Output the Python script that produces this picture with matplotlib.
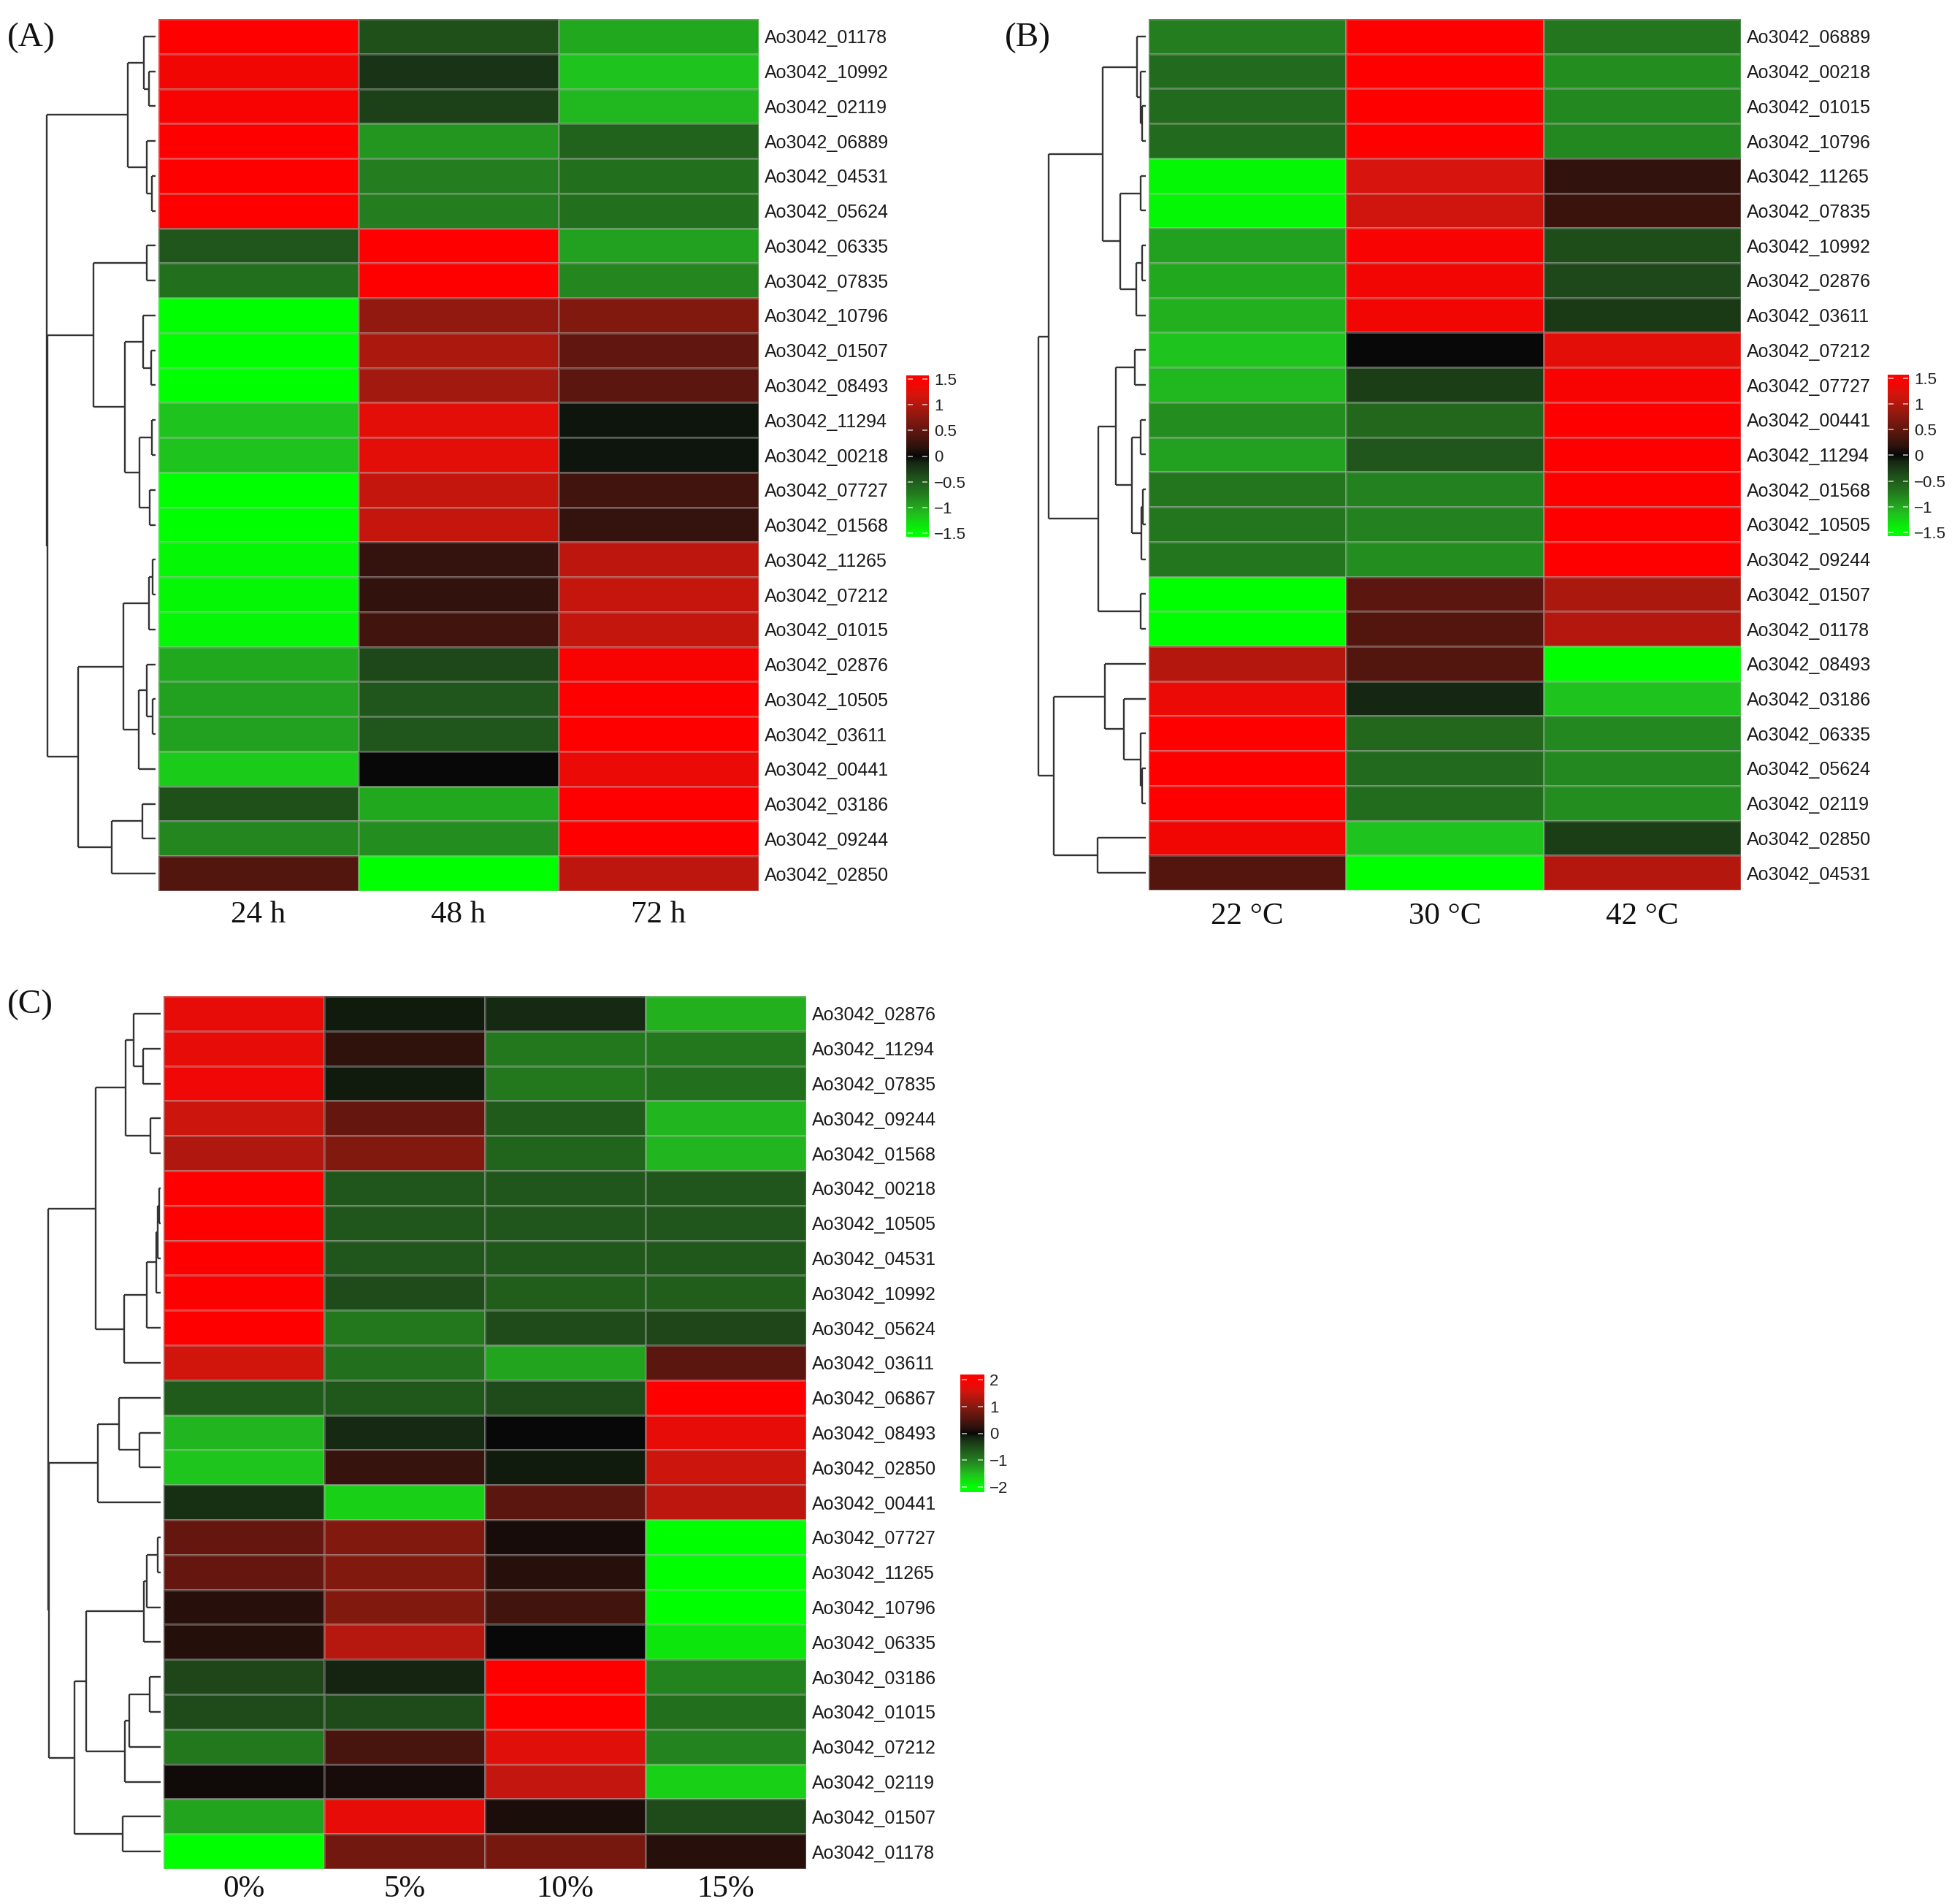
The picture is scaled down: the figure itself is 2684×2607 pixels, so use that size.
import numpy as np
import matplotlib
matplotlib.use('Agg')
import matplotlib.pyplot as plt
from matplotlib.colors import LinearSegmentedColormap
from matplotlib.collections import LineCollection

W, H = 2684, 2607

# ---- panel A: culture time ----
genes_a = ['Ao3042_01178', 'Ao3042_10992', 'Ao3042_02119', 'Ao3042_06889', 'Ao3042_04531',
           'Ao3042_05624', 'Ao3042_06335', 'Ao3042_07835', 'Ao3042_10796', 'Ao3042_01507',
           'Ao3042_08493', 'Ao3042_11294', 'Ao3042_00218', 'Ao3042_07727', 'Ao3042_01568',
           'Ao3042_11265', 'Ao3042_07212', 'Ao3042_01015', 'Ao3042_02876', 'Ao3042_10505',
           'Ao3042_03611', 'Ao3042_00441', 'Ao3042_03186', 'Ao3042_09244', 'Ao3042_02850']
cols_a = ['24 h', '48 h', '72 h']
expr_a = [
    [1.6, -0.4, -1.0], [1.4, -0.2, -1.15], [1.45, -0.3, -1.1], [1.6, -0.9, -0.55],
    [1.6, -0.75, -0.65], [1.6, -0.75, -0.65], [-0.45, 1.6, -0.95], [-0.65, 1.6, -0.8],
    [-1.6, 0.8, 0.7], [-1.6, 0.95, 0.5], [-1.6, 0.9, 0.45], [-1.15, 1.3, -0.05],
    [-1.15, 1.3, -0.05], [-1.5, 1.1, 0.3], [-1.5, 1.1, 0.22], [-1.45, 0.22, 1.05],
    [-1.45, 0.2, 1.1], [-1.45, 0.3, 1.1], [-1.0, -0.35, 1.45], [-0.95, -0.45, 1.5],
    [-0.95, -0.45, 1.5], [-1.2, 0.0, 1.35], [-0.4, -1.0, 1.6], [-0.8, -0.85, 1.55],
    [0.4, -1.6, 1.05]]
# tree: leaf = row index, node = (left, right, height)
tree_a = (((0, (1, 2, 28), 47), (3, (4, 5, 15), 35), 113),
          (((6, 7, 35), ((8, (9, 10, 18), 52), ((11, 12, 15), (13, 14, 25), 65), 125), 255),
           (((((15, 16, 12), 17, 28), ((18, (19, 20, 12), 35), 21, 68), 132),
             ((22, 23, 55), 24, 180), 317)), 443), 446)

# ---- panel B: temperature ----
genes_b = ['Ao3042_06889', 'Ao3042_00218', 'Ao3042_01015', 'Ao3042_10796', 'Ao3042_11265',
           'Ao3042_07835', 'Ao3042_10992', 'Ao3042_02876', 'Ao3042_03611', 'Ao3042_07212',
           'Ao3042_07727', 'Ao3042_00441', 'Ao3042_11294', 'Ao3042_01568', 'Ao3042_10505',
           'Ao3042_09244', 'Ao3042_01507', 'Ao3042_01178', 'Ao3042_08493', 'Ao3042_03186',
           'Ao3042_06335', 'Ao3042_05624', 'Ao3042_02119', 'Ao3042_02850', 'Ao3042_04531']
cols_b = ['22 \u00b0C', '30 \u00b0C', '42 \u00b0C']
expr_b = [
    [-0.75, 1.6, -0.7], [-0.6, 1.6, -0.85], [-0.6, 1.6, -0.82], [-0.6, 1.6, -0.82],
    [-1.45, 1.2, 0.2], [-1.45, 1.15, 0.25], [-0.95, 1.45, -0.38], [-1.0, 1.4, -0.35],
    [-1.05, 1.4, -0.25], [-1.15, 0.0, 1.3], [-1.1, -0.28, 1.45], [-0.85, -0.58, 1.55],
    [-0.95, -0.45, 1.55], [-0.7, -0.78, 1.6], [-0.7, -0.78, 1.6], [-0.7, -0.85, 1.6],
    [-1.6, 0.45, 0.95], [-1.6, 0.4, 1.0], [1.0, 0.4, -1.55], [1.35, -0.12, -1.15],
    [1.6, -0.58, -0.82], [1.6, -0.6, -0.82], [1.6, -0.62, -0.85], [1.4, -1.15, -0.28],
    [0.4, -1.6, 1.0]]
tree_b = ((((0, (1, (2, 3, 15), 22), 37), ((4, 5, 22), ((6, 7, 15), 8, 40), 105), 177),
           (((9, 10, 45), ((11, 12, 20), ((13, 14, 12), 15, 19), 57), 122), (16, 17, 22), 195), 399),
          ((18, (19, (20, (21, 22, 14), 22), 90), 167), (23, 24, 199), 377), 442)

# ---- panel C: salt ----
genes_c = ['Ao3042_02876', 'Ao3042_11294', 'Ao3042_07835', 'Ao3042_09244', 'Ao3042_01568',
           'Ao3042_00218', 'Ao3042_10505', 'Ao3042_04531', 'Ao3042_10992', 'Ao3042_05624',
           'Ao3042_03611', 'Ao3042_06867', 'Ao3042_08493', 'Ao3042_02850', 'Ao3042_00441',
           'Ao3042_07727', 'Ao3042_11265', 'Ao3042_10796', 'Ao3042_06335', 'Ao3042_03186',
           'Ao3042_01015', 'Ao3042_07212', 'Ao3042_02119', 'Ao3042_01507', 'Ao3042_01178']
cols_c = ['0%', '5%', '10%', '15%']
expr_c = [
    [1.75, -0.1, -0.2, -1.4], [1.75, 0.25, -0.95, -0.95], [1.85, -0.1, -0.95, -0.85],
    [1.5, 0.7, -0.65, -1.45], [1.3, 0.95, -0.75, -1.45], [2.1, -0.6, -0.6, -0.6],
    [2.1, -0.6, -0.6, -0.6], [2.1, -0.6, -0.62, -0.62], [2.1, -0.5, -0.68, -0.68],
    [2.1, -0.95, -0.5, -0.45], [1.55, -0.85, -1.3, 0.6], [-0.65, -0.62, -0.5, 2.1],
    [-1.45, -0.2, 0.0, 1.75], [-1.55, 0.3, -0.1, 1.5], [-0.25, -1.65, 0.6, 1.4],
    [0.7, 0.95, 0.1, -2.0], [0.7, 0.95, 0.2, -2.0], [0.2, 0.95, 0.4, -2.0],
    [0.18, 1.35, 0.0, -1.8], [-0.45, -0.15, 2.1, -1.05], [-0.5, -0.5, 2.0, -0.85],
    [-0.95, 0.45, 1.7, -1.05], [0.05, 0.1, 1.45, -1.65], [-1.3, 1.75, 0.12, -0.5],
    [-2.0, 0.8, 0.85, 0.2]]
tree_c = (((((0, (1, 2, 71), 111), (3, 4, 43), 145),
            (((((5, 6, 6), 7, 12), 8, 18), 9, 58), 10, 150), 268)),
          (((11, (12, 13, 88), 170), 14, 258),
           (((((15, 16, 13), 17, 56), 18, 68), (((19, 20, 46), 21, 130), 22, 146), 306),
            (23, 24, 156), 353), 459), 463)

cmap = LinearSegmentedColormap.from_list('gbr', [
    (0.00, (0, 1, 0)),
    (0.12, (0.13, 0.75, 0.12)),
    (0.25, (0.14, 0.49, 0.12)),
    (0.38, (0.12, 0.29, 0.10)),
    (0.46, (0.08, 0.15, 0.07)),
    (0.50, (0.03, 0.03, 0.03)),
    (0.56, (0.18, 0.07, 0.05)),
    (0.66, (0.37, 0.09, 0.06)),
    (0.78, (0.59, 0.10, 0.06)),
    (0.90, (0.84, 0.08, 0.05)),
    (1.00, (1, 0, 0))])

fig = plt.figure(figsize=(W / 100, H / 100), dpi=100)


def px_axes(x0, y0, x1, y1):
    return fig.add_axes([x0 / W, 1 - y1 / H, (x1 - x0) / W, (y1 - y0) / H])


def dendro_lines(node, segs):
    if isinstance(node, int):
        return node + 0.5, 0.0
    left, right, h = node
    yl, hl = dendro_lines(left, segs)
    yr, hr = dendro_lines(right, segs)
    segs.append([(hl, yl), (h, yl)])
    segs.append([(hr, yr), (h, yr)])
    segs.append([(h, yl), (h, yr)])
    return (yl + yr) / 2, h


def panel(box, genes, cols, values, tree, vlim, cbox, ticks, tlabels, span, xpad):
    x0, y0, x1, y1 = box
    vals = np.array(values)
    nr, nc = vals.shape

    ax = px_axes(x0, y0, x1, y1)
    ax.pcolormesh(vals, cmap=cmap, vmin=-vlim, vmax=vlim,
                  edgecolors=(0.72, 0.72, 0.72, 0.35), linewidth=0.8)
    ax.set_xlim(0, nc)
    ax.set_ylim(nr, 0)
    ax.set_yticks(np.arange(nr) + 0.5)
    ax.set_yticklabels(genes, fontsize=18, family='Liberation Sans', color='#1a1a1a')
    ax.yaxis.tick_right()
    ax.tick_params(axis='y', length=0, pad=6)
    ax.set_xticks(np.arange(nc) + 0.5)
    ax.set_xticklabels(cols, fontsize=31, family='Liberation Serif', color='#111111')
    ax.tick_params(axis='x', length=0, pad=xpad)
    for s in ax.spines.values():
        s.set_visible(False)

    # dendrogram, 3 tree units per pixel
    segs = []
    dendro_lines(tree, segs)
    root = tree[2]
    dx1 = x0 - 4
    dx0 = dx1 - (root + 6) / 3
    dax = px_axes(dx0, y0, dx1, y1)
    dax.add_collection(LineCollection(segs, colors='#333333', linewidths=1.7,
                                      capstyle='butt'))
    dax.set_xlim(root + 6, 0)
    dax.set_ylim(nr, 0)
    dax.axis('off')

    # colour key
    cx0, cy0, cx1, cy1 = cbox
    cax = px_axes(cx0, cy0, cx1, cy1)
    grad = np.linspace(-span, span, 256).reshape(-1, 1)
    cax.imshow(grad, cmap=cmap, vmin=-vlim, vmax=vlim, aspect='auto',
               origin='lower', extent=(0, 1, -span, span))
    cax.hlines(ticks, 0.05, 0.28, colors='white', linewidth=1.2, alpha=0.7)
    cax.hlines(ticks, 0.72, 0.95, colors='white', linewidth=1.2, alpha=0.7)
    cax.set_xlim(0, 1)
    cax.set_ylim(-span, span)
    cax.set_xticks([])
    cax.set_yticks(ticks)
    cax.set_yticklabels(tlabels, fontsize=16, family='Liberation Sans', color='#222222')
    cax.yaxis.tick_right()
    cax.tick_params(axis='y', length=0, pad=5)
    for s in cax.spines.values():
        s.set_visible(False)


ticks_ab = [1.5, 1, 0.5, 0, -0.5, -1, -1.5]
tlab_ab = ['1.5', '1', '0.5', '0', '\u22120.5', '\u22121', '\u22121.5']
ticks_c = [2, 1, 0, -1, -2]
tlab_c = ['2', '1', '0', '\u22121', '\u22122']

panel((217, 26, 1039, 1220), genes_a, cols_a, expr_a, tree_a, 1.5,
      (1241, 514, 1272, 735), ticks_ab, tlab_ab, 1.575, 10)
panel((1573, 26, 2384, 1219), genes_b, cols_b, expr_b, tree_b, 1.5,
      (2585, 513, 2614, 734), ticks_ab, tlab_ab, 1.575, 12)
panel((224, 1364, 1104, 2559), genes_c, cols_c, expr_c, tree_c, 2.0,
      (1315, 1882, 1348, 2043), ticks_c, tlab_c, 2.19, 6)

for txt, x, y in [('(A)', 10, 52), ('(B)', 1376, 52), ('(C)', 10, 1376)]:
    fig.text(x / W, 1 - y / H, txt, fontsize=34, family='Liberation Serif',
             va='center', ha='left', color='#111111')

fig.savefig('out.png', dpi=100, facecolor='white')
